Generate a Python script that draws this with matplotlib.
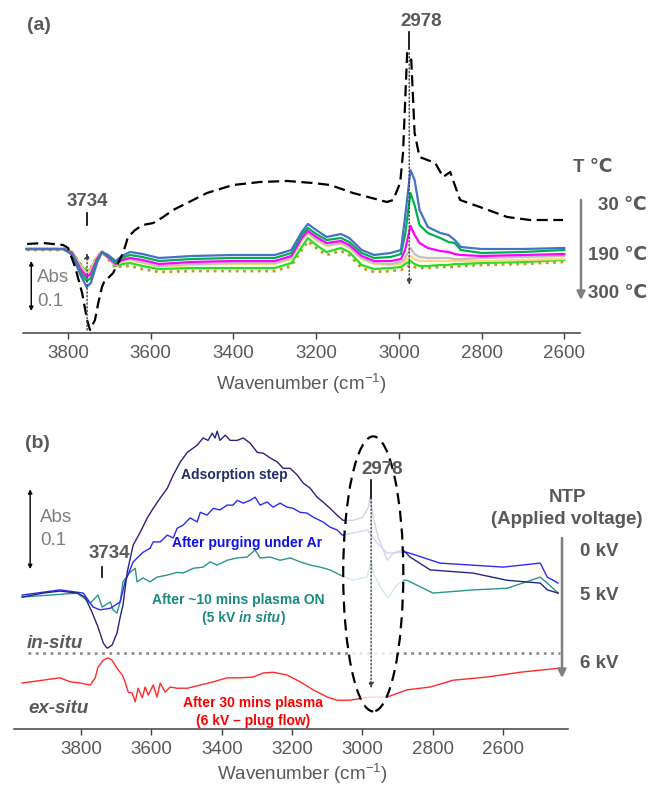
import matplotlib
matplotlib.use('Agg')
import matplotlib.pyplot as plt
from matplotlib.patches import Ellipse
from matplotlib.offsetbox import TextArea, HPacker, AnnotationBbox

plt.rcParams['font.family'] = ['Liberation Sans', 'DejaVu Sans']
plt.rcParams['mathtext.fontset'] = 'custom'
plt.rcParams['mathtext.rm'] = 'Liberation Sans'

# ---------------- data, panel (a) ----------------
# reference / gas spectrum (black dashed)
wn_a_ref = [3899, 3860, 3812, 3800, 3783, 3766, 3754, 3747, 3735, 3727, 3718, 3711, 3703, 3691, 3679,
            3667, 3655, 3638, 3619, 3594, 3570, 3546, 3512, 3464, 3401, 3336, 3270, 3208, 3166, 3111,
            3029, 3014, 2997, 2990, 2980, 2970, 2962, 2950, 2912, 2893, 2876, 2852, 2804, 2738, 2683, 2603]
abs_a_ref = [0.010, 0.012, 0.008, 0.002, -0.036, -0.088, -0.142, -0.162, -0.142, -0.108, -0.076, -0.062,
             -0.058, -0.048, -0.028, -0.008, 0.024, 0.038, 0.048, 0.052, 0.064, 0.078, 0.092, 0.112,
             0.128, 0.134, 0.136, 0.132, 0.128, 0.112, 0.094, 0.098, 0.132, 0.192, 0.392, 0.378, 0.232,
             0.184, 0.172, 0.144, 0.154, 0.098, 0.084, 0.064, 0.058, 0.058]

# temperature series, common wavenumber grid
wn_a = [3900, 3810, 3790, 3770, 3755, 3745, 3730, 3718, 3703, 3685, 3670, 3650, 3620, 3580, 3500, 3400,
        3300, 3260, 3235, 3220, 3200, 3175, 3140, 3120, 3090, 3060, 3020, 2995, 2985, 2972, 2962, 2950,
        2930, 2900, 2880, 2865, 2850, 2800, 2700, 2600]
abs_30 = [0.000, 0.000, -0.012, -0.052, -0.076, -0.068, -0.028, -0.006, -0.012, -0.024, -0.014, -0.006,
          -0.010, -0.018, -0.014, -0.012, -0.012, -0.002, 0.034, 0.050, 0.038, 0.024, 0.030, 0.022,
          -0.002, -0.012, -0.008, -0.002, 0.064, 0.158, 0.138, 0.078, 0.044, 0.032, 0.028, 0.018, 0.004,
          0.000, 0.000, 0.002]
abs_t2 = [0.000, 0.000, -0.010, -0.046, -0.064, -0.058, -0.024, -0.006, -0.014, -0.028, -0.018, -0.012,
          -0.016, -0.024, -0.020, -0.018, -0.018, -0.008, 0.028, 0.042, 0.030, 0.018, 0.022, 0.014,
          -0.008, -0.018, -0.016, -0.010, 0.028, 0.112, 0.088, 0.048, 0.032, 0.022, 0.014, 0.012, -0.002,
          -0.008, -0.006, -0.002]
abs_t3 = [0.000, 0.000, -0.008, -0.040, -0.056, -0.050, -0.020, -0.006, -0.016, -0.030, -0.022, -0.018,
          -0.022, -0.030, -0.026, -0.024, -0.024, -0.014, 0.022, 0.036, 0.024, 0.012, 0.016, 0.008,
          -0.014, -0.024, -0.024, -0.020, -0.002, 0.046, 0.028, 0.012, 0.002, -0.004, -0.006, -0.010,
          -0.012, -0.014, -0.012, -0.010]
abs_190 = [0.000, 0.000, -0.008, -0.036, -0.052, -0.046, -0.018, -0.006, -0.016, -0.032, -0.024, -0.020,
           -0.026, -0.034, -0.030, -0.028, -0.028, -0.018, 0.018, 0.032, 0.020, 0.008, 0.012, 0.004,
           -0.018, -0.028, -0.030, -0.026, -0.018, 0.002, -0.010, -0.016, -0.018, -0.018, -0.018, -0.020,
           -0.020, -0.018, -0.016, -0.014]
abs_t5 = [0.000, 0.000, -0.006, -0.034, -0.048, -0.042, -0.016, -0.004, -0.016, -0.032, -0.026, -0.022,
          -0.028, -0.036, -0.032, -0.030, -0.030, -0.020, 0.016, 0.030, 0.018, 0.006, 0.010, 0.002,
          -0.020, -0.030, -0.032, -0.030, -0.024, -0.014, -0.020, -0.024, -0.024, -0.024, -0.024, -0.024,
          -0.024, -0.024, -0.022, -0.020]
abs_t6 = [0.000, 0.000, -0.006, -0.032, -0.046, -0.040, -0.016, -0.006, -0.018, -0.034, -0.030, -0.028,
          -0.034, -0.040, -0.038, -0.038, -0.038, -0.028, 0.004, 0.022, 0.008, -0.006, 0.002, -0.006,
          -0.032, -0.040, -0.038, -0.036, -0.030, -0.024, -0.030, -0.034, -0.034, -0.032, -0.032, -0.030,
          -0.030, -0.028, -0.026, -0.022]
abs_300 = [-0.002, -0.002, -0.006, -0.030, -0.042, -0.038, -0.014, -0.006, -0.020, -0.038, -0.034, -0.034,
           -0.040, -0.046, -0.044, -0.044, -0.044, -0.034, -0.002, 0.016, 0.002, -0.012, -0.004, -0.012,
           -0.038, -0.046, -0.044, -0.042, -0.038, -0.032, -0.036, -0.038, -0.038, -0.036, -0.036, -0.036,
           -0.034, -0.032, -0.030, -0.026]

# ---------------- data, panel (b) ----------------
wn_ads = [3968, 3908, 3860, 3811, 3789, 3769, 3752, 3737, 3726, 3712, 3698, 3689, 3681, 3669, 3652,
          3632, 3612, 3595, 3575, 3555, 3538, 3518, 3498, 3470, 3453, 3439, 3427, 3419, 3413, 3405,
          3390, 3376, 3356, 3339, 3319, 3299, 3282, 3262, 3242, 3225, 3205, 3185, 3168, 3148, 3129,
          3112, 3092, 3072, 3055, 3026, 2998, 2983, 2978, 2969, 2955, 2929, 2912, 2884, 2864, 2807,
          2685, 2588, 2494, 2474, 2443]
abs_ads = [0.000, 0.005, 0.0075, 0.005, 0.000, -0.019, -0.0375, -0.0575, -0.064, -0.060, -0.045, -0.025,
           -0.010, 0.031, 0.065, 0.081, 0.099, 0.111, 0.124, 0.136, 0.1525, 0.169, 0.181, 0.190, 0.199,
           0.196, 0.205, 0.199, 0.2075, 0.196, 0.2025, 0.196, 0.196, 0.199, 0.1925, 0.181, 0.180, 0.174,
           0.169, 0.161, 0.161, 0.1525, 0.1425, 0.136, 0.125, 0.119, 0.111, 0.1025, 0.096, 0.096, 0.100,
           0.1125, 0.125, 0.100, 0.075, 0.046, 0.055, 0.059, 0.050, 0.034, 0.030, 0.021, 0.0175, 0.009,
           0.005]

wn_purge = [3968, 3860, 3794, 3766, 3746, 3717, 3689, 3675, 3652, 3624, 3604, 3595, 3575, 3555, 3538,
            3527, 3510, 3490, 3470, 3461, 3442, 3424, 3405, 3385, 3368, 3356, 3339, 3319, 3305, 3291,
            3271, 3254, 3234, 3214, 3197, 3177, 3157, 3140, 3112, 3092, 3072, 3057, 3026, 2986, 2958,
            2929, 2884, 2873, 2779, 2599, 2494, 2474, 2443]
abs_purge = [0.0025, 0.009, 0.005, -0.0125, -0.016, -0.014, -0.006, 0.019, 0.044, 0.056, 0.061, 0.069,
             0.069, 0.0775, 0.074, 0.086, 0.090, 0.099, 0.094, 0.106, 0.1025, 0.111, 0.109, 0.115, 0.115,
             0.121, 0.1175, 0.121, 0.125, 0.115, 0.119, 0.1125, 0.1175, 0.1125, 0.111, 0.106, 0.105,
             0.100, 0.094, 0.0875, 0.084, 0.0775, 0.080, 0.084, 0.0675, 0.055, 0.056, 0.056, 0.0425,
             0.0375, 0.0425, 0.025, 0.0175]

wn_on = [3968, 3811, 3774, 3752, 3740, 3717, 3709, 3698, 3689, 3681, 3661, 3646, 3641, 3624, 3604,
         3584, 3555, 3527, 3510, 3481, 3453, 3433, 3413, 3385, 3356, 3328, 3305, 3291, 3262, 3234,
         3205, 3177, 3148, 3120, 3092, 3063, 3026, 2986, 2975, 2969, 2949, 2927, 2907, 2884, 2873,
         2799, 2685, 2588, 2494, 2474, 2443]
abs_on = [0.000, 0.005, -0.0075, 0.0025, -0.0125, -0.006, -0.016, -0.020, -0.006, 0.019, 0.031, 0.036,
          0.019, 0.024, 0.019, 0.025, 0.0275, 0.031, 0.030, 0.036, 0.0375, 0.044, 0.040, 0.046, 0.049,
          0.050, 0.059, 0.049, 0.050, 0.046, 0.049, 0.044, 0.040, 0.0375, 0.034, 0.0275, 0.021, 0.025,
          0.046, 0.030, 0.0125, -0.00125, 0.0125, 0.021, 0.021, 0.005, 0.009, 0.011, 0.025, 0.0175, 0.005]

wn_ex = [3968, 3860, 3831, 3803, 3774, 3760, 3752, 3737, 3723, 3712, 3698, 3683, 3675, 3666, 3655,
         3646, 3638, 3626, 3618, 3609, 3595, 3584, 3575, 3561, 3547, 3527, 3498, 3461, 3424, 3385,
         3348, 3311, 3282, 3254, 3214, 3177, 3140, 3100, 3072, 3035, 2978, 2929, 2873, 2807, 2742,
         2645, 2551, 2440]
abs_ex = [-0.1075, -0.101, -0.106, -0.1075, -0.110, -0.101, -0.0875, -0.079, -0.076, -0.079, -0.089,
          -0.0975, -0.106, -0.119, -0.120, -0.131, -0.114, -0.126, -0.1125, -0.1225, -0.110, -0.125,
          -0.1075, -0.119, -0.1125, -0.114, -0.114, -0.110, -0.106, -0.101, -0.101, -0.100, -0.095,
          -0.094, -0.0975, -0.106, -0.116, -0.125, -0.129, -0.129, -0.125, -0.125, -0.116, -0.1125,
          -0.104, -0.100, -0.094, -0.089]

ticks = [3800, 3600, 3400, 3200, 3000, 2800, 2600]

# ---------------- figure ----------------
W, H = 651, 787
fig = plt.figure(figsize=(W / 100, H / 100), dpi=100)
grey = '#595959'


def box(x0, y0, x1, y1):
    return [x0 / W, 1 - y1 / H, (x1 - x0) / W, (y1 - y0) / H]


def fp(px, py):
    return (px / W, 1 - py / H)


ax1 = fig.add_axes(box(23, 10, 580, 333))
ax2 = fig.add_axes(box(14, 410, 568, 729))
for ax in (ax1, ax2):
    for s in ('top', 'left', 'right'):
        ax.spines[s].set_visible(False)
    ax.spines['bottom'].set_color('#404040')
    ax.spines['bottom'].set_linewidth(1.1)
    ax.set_yticks([])
    ax.set_xticks(ticks)
    ax.tick_params(axis='x', direction='out', length=4, width=1, color='#404040',
                   labelsize=13.5, labelcolor=grey, pad=5)
    ax.patch.set_alpha(0)
    ax.set_xlabel('Wavenumber (cm$^{\\mathregular{-1}}$)', fontsize=13.5, color=grey, labelpad=6)

ax1.set_xlim(3909, 2562)
ax1.set_ylim(-0.168, 0.478)
ax2.set_xlim(3991, 2415)
ax2.set_ylim(-0.165, 0.234)
ax2.xaxis.set_label_coords(0.52, -0.102)

# ---- panel (a) curves ----
ax1.plot(wn_a, abs_300, color='#C8961E', lw=2, ls=':')
ax1.plot(wn_a, abs_t6, color='#22E022', lw=1.6)
ax1.plot(wn_a, abs_t5, color='#FFD680', lw=1.6)
ax1.plot(wn_a, abs_190, color='#C0C0C0', lw=1.6)
ax1.plot(wn_a, abs_t3, color='#FF00FF', lw=1.6)
ax1.plot(wn_a, abs_t2, color='#00B050', lw=1.6)
ax1.plot(wn_a, abs_30, color='#4472C4', lw=1.6)
ax1.plot(wn_a_ref, abs_a_ref, color='black', lw=1.6, ls=(0, (5, 2.5)))

arrow_dot = dict(arrowstyle='-|>', ls=':', lw=1, color='#404040', mutation_scale=8, shrinkA=0, shrinkB=0)
bar = dict(arrowstyle='<|-|>', lw=1, color='black', mutation_scale=6, shrinkA=0, shrinkB=0)

ax1.text(3754, 0.094, '3734', ha='center', va='center', fontsize=13.5, weight='bold', color=grey)
ax1.plot([3754, 3754], [0.072, 0.048], color='black', lw=1.2)
ax1.annotate('', xy=(3754, -0.008), xytext=(3754, -0.162), arrowprops=arrow_dot)
ax1.text(2946, 0.454, '2978', ha='center', va='center', fontsize=13.5, weight='bold', color=grey)
ax1.plot([2975, 2975], [0.434, 0.400], color='black', lw=1.2)
ax1.annotate('', xy=(2975, -0.072), xytext=(2975, 0.392), arrowprops=arrow_dot)
ax1.annotate('', xy=(3889, -0.024), xytext=(3889, -0.124), arrowprops=bar)
ax1.text(3875, -0.058, 'Abs', ha='left', va='center', fontsize=13.5, color='#808080')
ax1.text(3875, -0.106, '0.1', ha='left', va='center', fontsize=13.5, color='#808080')

fig.text(*fp(27, 25), '(a)', ha='left', va='center', fontsize=14, weight='bold', color=grey)
fig.text(*fp(573, 168), 'T ℃', ha='left', va='center', fontsize=13.5, weight='bold', color=grey)
for lab, py in [('30 ℃', 205), ('190 ℃', 255), ('300 ℃', 293)]:
    fig.text(*fp(647, py), lab, ha='right', va='center', fontsize=13.5, weight='bold', color=grey)
ax1.annotate('', xy=fp(581, 300), xytext=fp(581, 200), xycoords='figure fraction',
             textcoords='figure fraction', annotation_clip=False,
             arrowprops=dict(arrowstyle='-|>', lw=1.8, color='#808080', mutation_scale=12,
                             shrinkA=0, shrinkB=0))

# ---- panel (b) curves ----
ax2.plot(wn_on, abs_on, color='#2A9688', lw=1, zorder=2)
ax2.plot(wn_purge, abs_purge, color='#2B2BF0', lw=1, zorder=2)
ax2.plot(wn_ads, abs_ads, color='#262680', lw=1, zorder=2)
ax2.plot(wn_ex, abs_ex, color='#FF2A2A', lw=1, zorder=2)

ax2.add_patch(Ellipse((2969, 0.029), 171, 0.344, facecolor=(1, 1, 1, 0.8), edgecolor='black',
                      ls=(0, (5, 3)), lw=1.6, zorder=3))
ax2.axhline(-0.07, xmin=(3991 - 3951) / 1576, xmax=(3991 - 2437) / 1576, color='#8c8c8c',
            ls=':', lw=2, zorder=1)

ax2.text(2944, 0.159, '2978', ha='center', va='center', fontsize=13.5, weight='bold', color=grey, zorder=5)
ax2.plot([2975, 2975], [0.146, 0.124], color='black', lw=1.2, zorder=5)
ax2.annotate('', xy=(2975, -0.114), xytext=(2975, 0.124), arrowprops=arrow_dot, zorder=5)
ax2.text(3720, 0.055, '3734', ha='center', va='center', fontsize=13.5, weight='bold', color=grey)
ax2.plot([3740, 3740], [0.0375, 0.025], color='black', lw=1.2)
ax2.annotate('', xy=(3945, 0.135), xytext=(3945, 0.035), arrowprops=bar)
ax2.text(3917, 0.100, 'Abs', ha='left', va='center', fontsize=13.5, color='#808080')
ax2.text(3917, 0.071, '0.1', ha='left', va='center', fontsize=13.5, color='#808080')

ax2.text(3954, -0.0575, 'in-situ', ha='left', va='center', fontsize=13.5, weight='bold',
         style='italic', color=grey)
ax2.text(3951, -0.139, 'ex-situ', ha='left', va='center', fontsize=13.5, weight='bold',
         style='italic', color=grey)

ax2.text(3365, 0.1525, 'Adsorption step', ha='center', va='center', fontsize=10, weight='bold',
         color='#1F2F6B')
ax2.text(3328, 0.0675, 'After purging under Ar', ha='center', va='center', fontsize=10, weight='bold',
         color='#1010E8')
ax2.text(3353, -0.004, 'After ~10 mins plasma ON', ha='center', va='center', fontsize=10,
         weight='bold', color='#1A8A80')
tp = dict(fontsize=10, weight='bold', color='#1A8A80')
pack = HPacker(children=[HPacker(children=[TextArea('(5 kV', textprops=tp),
                                           TextArea('in situ', textprops=dict(tp, style='italic'))],
                                 sep=3, pad=0, align='baseline'),
                         TextArea(')', textprops=tp)], sep=0, pad=0, align='baseline')
ax2.add_artist(AnnotationBbox(pack, (3339, -0.026), frameon=False, box_alignment=(0.5, 0.5),
                              pad=0))
ax2.text(3311, -0.1325, 'After 30 mins plasma', ha='center', va='center', fontsize=10, weight='bold',
         color='#FF0000')
ax2.text(3311, -0.155, '(6 kV \u2013 plug flow)', ha='center', va='center', fontsize=10,
         weight='bold', color='#FF0000')

fig.text(*fp(25, 443), '(b)', ha='left', va='center', fontsize=14, weight='bold', color=grey)
fig.text(*fp(567, 497), 'NTP', ha='center', va='center', fontsize=13.5, weight='bold', color=grey)
fig.text(*fp(567, 520), '(Applied voltage)', ha='center', va='center', fontsize=13.5, weight='bold',
         color=grey)
for lab, py in [('0 kV', 552), ('5 kV', 595), ('6 kV', 663)]:
    fig.text(*fp(580, py), lab, ha='left', va='center', fontsize=13.5, weight='bold', color=grey)
ax2.annotate('', xy=fp(562, 678), xytext=fp(562, 538), xycoords='figure fraction',
             textcoords='figure fraction', annotation_clip=False,
             arrowprops=dict(arrowstyle='-|>', lw=1.8, color='#808080', mutation_scale=12,
                             shrinkA=0, shrinkB=0))

fig.savefig('out.png', dpi=100)
